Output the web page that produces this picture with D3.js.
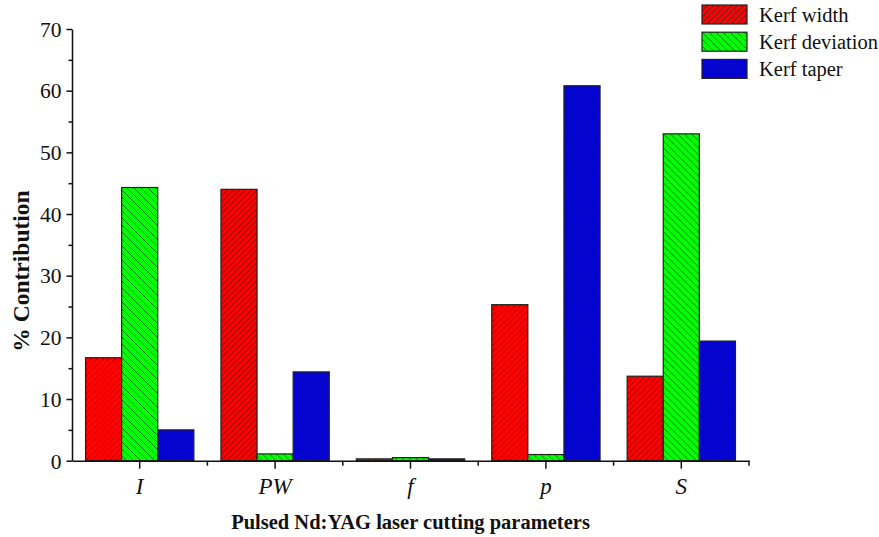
<!DOCTYPE html>
<html>
<head>
<meta charset="utf-8">
<script src="https://cdn.jsdelivr.net/npm/d3@7"></script>
<style>
  html, body { margin: 0; padding: 0; background: #fff; }
  svg { display: block; }
  text { font-family: "Liberation Serif", "Times New Roman", serif; fill: #111; }
</style>
</head>
<body>
<svg id="chart" width="879" height="537"></svg>
<script>
// Percent contribution of each cutting parameter to the three responses
const categories = ["I", "PW", "f", "p", "S"];
const kerfWidth = [16.7, 44.0, 0.3, 25.3, 13.7];
const kerfDeviation = [44.3, 1.1, 0.5, 1.0, 53.0];
const kerfTaper = [5.0, 14.4, 0.3, 60.8, 19.4];
const seriesNames = ["Kerf width", "Kerf deviation", "Kerf taper"];
const yTicks = [0, 10, 20, 30, 40, 50, 60, 70];

const seriesValues = [kerfWidth, kerfDeviation, kerfTaper];
const fills = ["#ff0000", "#00ff00", "#0000ee"];
const patternIds = ["hatchRed", "hatchGreen", "hatchBlue"];

const svg = d3.select("#chart");

const x = d3.scaleBand().domain(categories).range([72, 749]).paddingInner(0).paddingOuter(0);
const xs = d3.scaleBand().domain(seriesNames).range([0, x.bandwidth()]).paddingInner(0).paddingOuter(0.375);
const y = d3.scaleLinear().domain([0, 70]).range([460.7, 29]);

// Fill patterns: forward diagonal, back diagonal, fine crosshatch
const defs = svg.append("defs");
function hatch(id, color, size, paths, sw, op) {
  const p = defs.append("pattern").attr("id", id).attr("patternUnits", "userSpaceOnUse")
    .attr("width", size).attr("height", size);
  p.append("rect").attr("width", size).attr("height", size).attr("fill", color);
  paths.forEach(d => p.append("path").attr("d", d).attr("stroke", "#1a1a1a")
    .attr("stroke-width", sw).attr("fill", "none").attr("opacity", op));
}
hatch("hatchRed", fills[0], 6, ["M-1,7 L7,-1", "M-3,3 L3,-3", "M3,9 L9,3"], 0.8, 0.7);
hatch("hatchGreen", fills[1], 7, ["M-1,-1 L8,8", "M-4,3 L4,11", "M3,-4 L11,4"], 0.8, 0.7);
hatch("hatchBlue", fills[2], 3.4, ["M0,0 L3.4,3.4", "M0,3.4 L3.4,0"], 0.5, 0.5);

// Bars
const groups = svg.append("g").selectAll("g").data(categories).join("g")
  .attr("transform", d => `translate(${x(d)},0)`);
groups.selectAll("rect")
  .data((c, ci) => seriesNames.map((s, si) => ({ s, si, v: seriesValues[si][ci] })))
  .join("rect")
  .attr("x", d => xs(d.s))
  .attr("width", xs.bandwidth())
  .attr("y", d => y(d.v))
  .attr("height", d => y(0) - y(d.v))
  .attr("fill", d => `url(#${patternIds[d.si]})`)
  .attr("stroke", "#222")
  .attr("stroke-width", 1.2);

// Y axis with major and minor ticks
const yAxis = svg.append("g").attr("transform", "translate(72,0)")
  .call(d3.axisLeft(y).tickValues(yTicks).tickSize(5.5).tickPadding(5).tickSizeOuter(0));
svg.append("g").attr("transform", "translate(72,0)")
  .call(d3.axisLeft(y).tickValues(d3.range(5, 70, 10)).tickSize(3.5).tickFormat("").tickSizeOuter(0))
  .select(".domain").remove();
yAxis.selectAll("text").style("font-size", "21.5px").attr("dy", "0.34em");

// X axis with category ticks and minor ticks at group boundaries
const xAxis = svg.append("g").attr("transform", `translate(0,${y(0)})`)
  .call(d3.axisBottom(x).tickSize(8).tickPadding(6).tickSizeOuter(0));
xAxis.selectAll("text").style("font-size", "23px").style("font-style", "italic").attr("dy", "0.85em");
const bounds = categories.map(c => x(c)).concat([x.range()[1]]);
svg.append("g").attr("transform", `translate(0,${y(0)})`)
  .selectAll("line").data(bounds.slice(1)).join("line")
  .attr("x1", d => d).attr("x2", d => d).attr("y1", 0).attr("y2", 5)
  .attr("stroke", "#111").attr("stroke-width", 1.5);

svg.selectAll(".domain").attr("stroke", "#111").attr("stroke-width", 1.5);
svg.selectAll(".tick line").attr("stroke", "#111").attr("stroke-width", 1.5);

// Axis titles
svg.append("text")
  .attr("transform", "translate(29,271) rotate(-90)")
  .attr("text-anchor", "middle")
  .style("font-size", "23.5px").style("font-weight", "bold")
  .text("% Contribution");
svg.append("text")
  .attr("x", 410.5).attr("y", 529)
  .attr("text-anchor", "middle")
  .style("font-size", "20.5px").style("font-weight", "bold")
  .text("Pulsed Nd:YAG laser cutting parameters");

// Legend
const legend = svg.append("g").attr("transform", "translate(702,5)");
const li = legend.selectAll("g").data(seriesNames).join("g")
  .attr("transform", (d, i) => `translate(0,${i * 27.2})`);
li.append("rect").attr("width", 45).attr("height", 19)
  .attr("fill", (d, i) => `url(#${patternIds[i]})`)
  .attr("stroke", "#222").attr("stroke-width", 1.2);
li.append("text").attr("x", 57).attr("y", 16.5)
  .style("font-size", "20.5px").text(d => d);
</script>
</body>
</html>
